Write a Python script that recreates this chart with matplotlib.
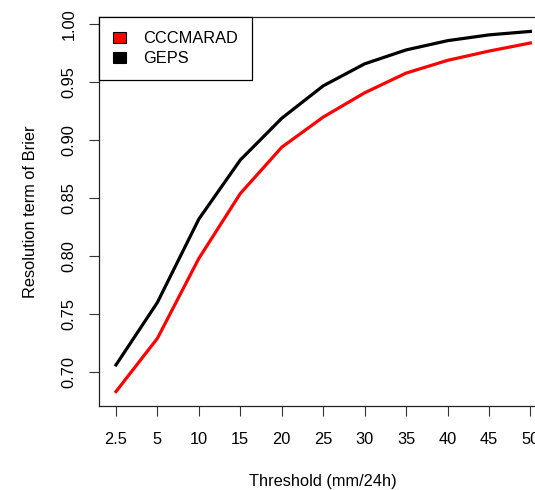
import matplotlib.pyplot as plt
from matplotlib.patches import Patch

plt.rcParams['font.family'] = ['Liberation Sans', 'DejaVu Sans']

# thresholds shown as equally spaced categories
thresholds = ["2.5", "5", "10", "15", "20", "25", "30", "35", "40", "45", "50"]
cccmarad = [0.683, 0.729, 0.798, 0.854, 0.894, 0.920, 0.941, 0.958, 0.969, 0.977, 0.984]
geps = [0.706, 0.760, 0.832, 0.883, 0.919, 0.947, 0.966, 0.978, 0.986, 0.991, 0.994]
yticks = [0.70, 0.75, 0.80, 0.85, 0.90, 0.95, 1.00]

fs = 11.8
fig = plt.figure(figsize=(5.35, 4.90), dpi=100)
# plot box runs past the right edge of the picture, as in the reference
ax = fig.add_axes([99.4 / 535, 84 / 490, 447.6 / 535, 389 / 490])

x = list(range(1, len(thresholds) + 1))
ax.plot(x, cccmarad, color="red", lw=2.3, solid_joinstyle="round")
ax.plot(x, geps, color="black", lw=2.3, solid_joinstyle="round")

# R-style 4% axis extension
xr = (x[-1] - x[0]) * 0.04
ax.set_xlim(x[0] - xr, x[-1] + xr)
ymin, ymax = min(cccmarad), max(geps)
yr = (ymax - ymin) * 0.04
ax.set_ylim(ymin - yr, ymax + yr)

ax.set_xticks(x)
ax.set_xticklabels(thresholds, fontsize=fs)
ax.set_yticks(yticks)
ax.set_yticklabels([f"{v:.2f}" for v in yticks], fontsize=fs, rotation=90, va="center")
ax.tick_params(direction="out", length=7.5, width=0.8, color="#333333", pad=9)
ax.tick_params(axis="x", pad=11)

for s in ax.spines.values():
    s.set_linewidth(0.9)
    s.set_color("#222222")

ax.set_xlabel("Threshold (mm/24h)", fontsize=fs, labelpad=20)
ax.set_ylabel("Resolution term of Brier", fontsize=fs, labelpad=17)

handles = [Patch(facecolor="red", edgecolor="black", lw=0.8),
           Patch(facecolor="black", edgecolor="black", lw=0.8)]
leg = ax.legend(handles, ["CCCMARAD", "GEPS"], loc="upper left", bbox_to_anchor=(0, 1),
                borderaxespad=0, fontsize=fs, fancybox=False, framealpha=1,
                edgecolor="black", handlelength=0.8, handleheight=0.65,
                handletextpad=1.0, labelspacing=0.3, borderpad=0.85)
leg.get_frame().set_linewidth(0.9)

fig.savefig("out.png", dpi=100)
